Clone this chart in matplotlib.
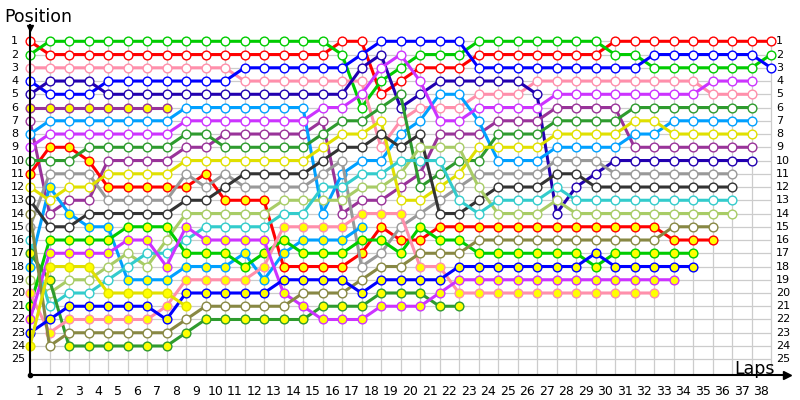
import numpy as np
import matplotlib.pyplot as plt

N = None
laps = list(range(39))

# positions per lap (lap 0 = grid), None = not running
red    = [1] + [2]*15 + [1, 1, 5, 4, 3, 3, 3] + [2]*7 + [1]*9
green  = [2] + [1]*15 + [2, 6, 4, 3, 2, 2, 2] + [1]*7 + [2, 2] + [3]*6 + [2]
pink   = [3]*11 + [4]*7 + [9, 7, 6, 6, 6, 5, 5, 5] + [4]*9 + [5]*3 + [N]
blue   = [4, 5, 5, 5] + [4]*7 + [3]*6 + [2] + [1]*5 + [3]*9 + [2]*6 + [3]
navy   = [5, 4, 4, 4] + [5]*13 + [3, 2, 6, 5] + [4]*5 + [5, 14, 12, 11] + [10]*8 + [N]
purple_y = [6]*8 + [N]*31
purple = [7, 14, 13, 13, 10, 10, 10, 10, 9, 9] + [8]*5 + [7, 14, 13, 13, 12, 11, 8, 8, 8, 7, 7, 7, 6, 6, 6, 6] + [9]*7 + [N]
sky    = [8] + [7]*7 + [6]*7 + [14, 11, 10, 10, 8, 7, 5, 5, 7, 10, 10, 10, 9, 9, 9, 9, 8, 8] + [7]*5 + [N]
violet = [9] + [8]*7 + [7]*7 + [6, 6, 5, 3, 2, 4, 7, 7, 6, 6, 6, 6] + [5]*8 + [4]*3 + [N]
red_y  = [11, 9, 9, 10, 12, 12, 12, 12, 12, 11, 13, 13, 13, 18, 18, 18, 18, 17, 15, 16, 16] + [15]*12 + [16]*3 + [N]*3
dgreen = [10, 10, 10] + [9]*5 + [8, 8] + [9]*5 + [8, 7, 7, 6, 5, 12, 11, 10, 10, 8, 8, 8, 7, 7, 7, 7] + [6]*7 + [N]
gray   = [15, 11, 11, 11, 13, 13, 13, 13, 11, 12, 11, 12, 12, 12, 12, 11, 10, 18, 17, 15, 14, 13, 12,
          11, 11, 11, 11, 10, 10, 10] + [11]*7 + [N, N]
sky_y  = [18, 12, 14, 15, 15, 19, 19, 19, 18, 18, 18, 17, 19, 17, 16, 16, 16, 15] + [N]*21
yellow = [12, 13, 12, 12, 11, 11, 11, 11] + [10]*7 + [9, 8, 8, 7, 13, 13, 12, 11, 9, 9, 9, 9, 8, 8, 8, 8, 7, 7] + [8]*5 + [N]
black  = [13, 15, 15] + [14]*5 + [13, 13, 12, 11, 11, 11, 11, 10, 9, 9, 8, 9, 8, 14, 14, 13, 12, 12, 12, 11, 11] + [12]*8 + [N, N]
lgreen = [19, 20, 19, 19, 18, 17, 18, 16] + [14]*5 + [13]*4 + [12, 12, 11, 9, 9, 9, 12, 14, 14, 14, 13] + [14]*9 + [N, N]
cyan   = [16, 21, 20, 20, 19, 18, 17, 17, 16, 15, 15, 15, 15, 14, 14, 12, 12, 11, 11, 10, 10, 10, 13, 14,
          13, 13, 13, 12] + [13]*9 + [N, N]
green_y = [21, 16, 16, 16, 16, 15, 15, 15, 17, 17, 17, 18, 17, 16, 17, 17, 17, 16, 16, 17, 15, 16, 16] + [17]*6 + [18] + [17]*5 + [N]*4
dgreen_y = [17, 19] + [24]*6 + [23] + [22]*6 + [21]*3 + [20]*3 + [21, 21] + [N]*16
pink_y = [20, 23] + [22]*5 + [21] + [19]*4 + [18] + [15]*4 + [14]*3 + [18, 18] + [20]*11 + [N]*6
violet_y = [22] + [17]*4 + [16, 16, 18, 15] + [16]*4 + [20, 21, 22, 22, 22, 21, 21, 21, 20] + [19]*12 + [N]*5
olive  = [14, 24] + [23]*6 + [22] + [21]*5 + [20]*3 + [19, 18, 18, 17, 17, 17] + [16]*10 + [15]*3 + [N]*3
blue_y = [23, 22] + [21]*5 + [22] + [20]*5 + [19]*4 + [20] + [19]*4 + [18]*7 + [17] + [18]*5 + [N]*4
yellow_y = [24, 18, 18, 18, 20, 20, 20, 20, 21] + [N]*30

series = [
    (red, '#ff0000', 'white'), (green, '#00cc00', 'white'), (pink, '#ff8fab', 'white'),
    (blue, '#0000ff', 'white'), (navy, '#2200b0', 'white'), (purple_y, '#993399', '#ffff00'),
    (purple, '#993399', 'white'), (sky, '#00a0ff', 'white'), (violet, '#cc33ff', 'white'),
    (red_y, '#ff0000', '#ffff00'), (dgreen, '#2e9b2e', 'white'), (gray, '#999999', 'white'),
    (sky_y, '#00a0ff', '#ffff00'), (yellow, '#e0e000', 'white'), (black, '#333333', 'white'),
    (lgreen, '#a8cc66', 'white'), (cyan, '#33cccc', 'white'), (green_y, '#00cc00', '#ffff00'),
    (dgreen_y, '#2e9b2e', '#ffff00'), (pink_y, '#ff8fab', '#ffff00'), (violet_y, '#cc33ff', '#ffff00'),
    (olive, '#888844', 'white'), (blue_y, '#0000ff', '#ffff00'), (yellow_y, '#e0e000', '#ffff00'),
]

fig = plt.figure(figsize=(8, 4), dpi=100)
ax = fig.add_axes([30/800, 25/400, 770/800, 350/400])
ax.set_xlim(0, 770/19.5)
ax.set_ylim(26.19, -0.23)
ax.axis('off')

# grid
ax.vlines(range(1, 39), 1, 26.19, color='#cccccc', lw=0.9, zorder=0)
ax.hlines(range(1, 26), 0, 38, color='#cccccc', lw=0.9, zorder=0)

# axes lines
ax.plot([0, 0], [-0.2, 26.19], color='black', lw=1.5, clip_on=False, zorder=5)
ax.plot([0, 38.8], [26.19, 26.19], color='black', lw=1.5, clip_on=False, zorder=5)
ax.plot([0], [0.0], marker='v', color='black', ms=5, clip_on=False, zorder=5)
ax.plot([38.8], [26.19], marker='>', color='black', ms=6, clip_on=False, zorder=5)
ax.plot([0], [26.19], marker='o', color='black', ms=3, clip_on=False, zorder=5)

for pos, col, face in series:
    y = np.array([np.nan if v is None else v for v in pos], dtype=float)
    ax.plot(laps, y, '-', color=col, lw=2.2, marker='o', ms=6.3,
            mfc=face, mec=col, mew=1.0, zorder=3, clip_on=False)

for p in range(1, 26):
    ax.text(-0.97, p, str(p), ha='left', va='center', fontsize=8, clip_on=False)
    ax.text(38.26, p, str(p), ha='left', va='center', fontsize=8, clip_on=False)
for i in range(1, 39):
    ax.text(i - 0.5, 27.4, str(i), ha='center', va='center', fontsize=9, clip_on=False)

fig.text(4/800, 1 - 17/400, 'Position', ha='left', va='center', fontsize=12.5)
fig.text(775/800, 1 - 369/400, 'Laps', ha='right', va='center', fontsize=12.5)

fig.savefig('out.png', dpi=100)
